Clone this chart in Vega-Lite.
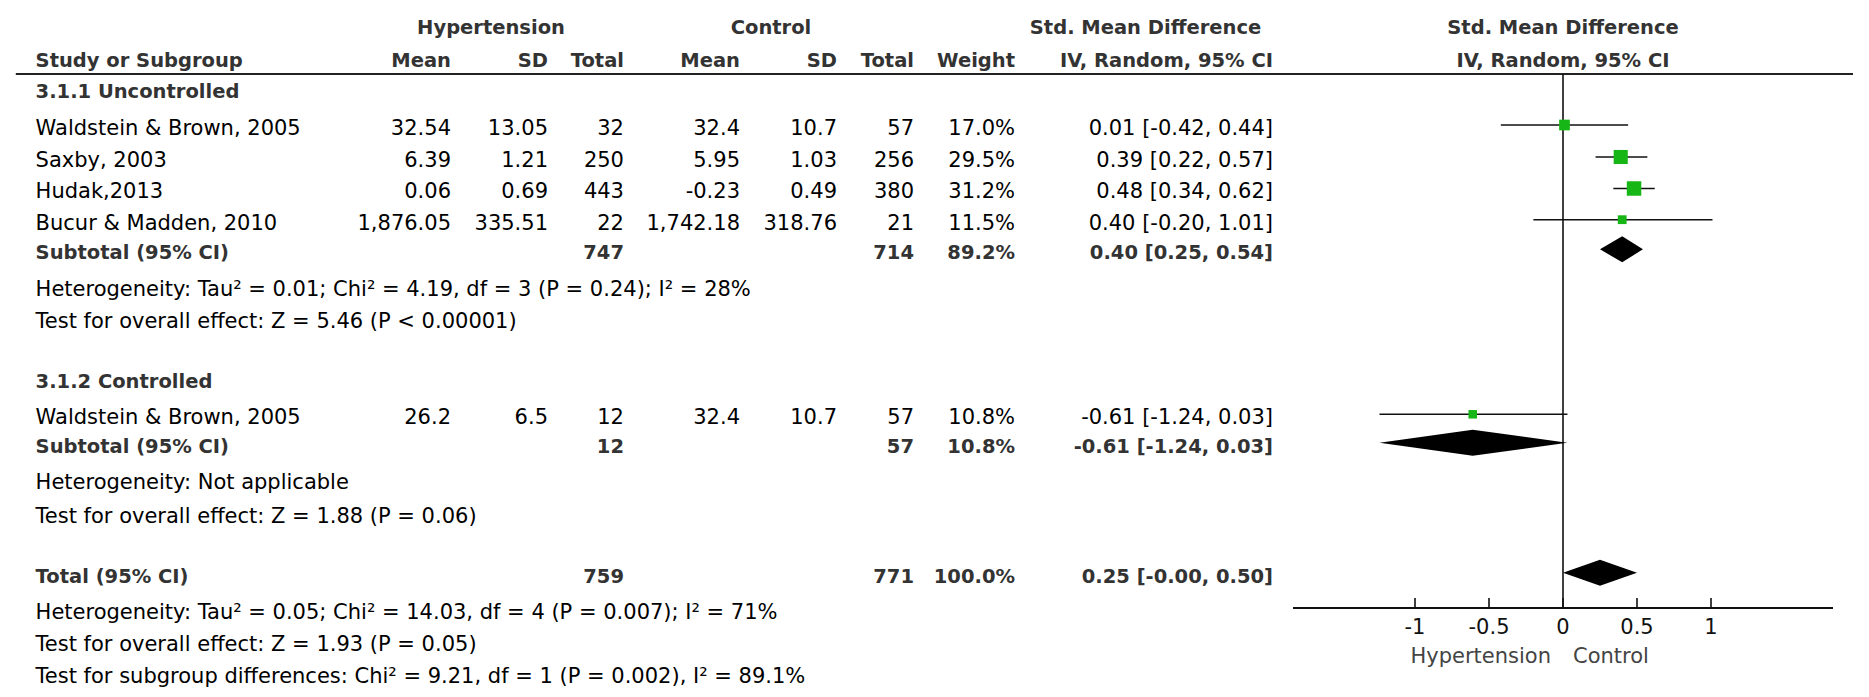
{
  "$schema": "https://vega.github.io/schema/vega-lite/v6.json",
  "autosize": {"type": "fit", "contains": "padding"},
  "width": 1869,
  "height": 697,
  "padding": 0,
  "background": "white",
  "config": {"view": {"stroke": null}, "axis": {"disable": true}},
  "datasets": {
    "rows": [
      {"r": 1.84, "type": "header", "study": "Study or Subgroup", "hm": "Mean", "hsd": "SD", "hn": "Total", "cm": "Mean", "csd": "SD", "cn": "Total", "w": "Weight", "ci": "IV, Random, 95% CI"},
      {"r": 2.841, "type": "group", "study": "3.1.1 Uncontrolled"},
      {"r": 4.035, "type": "study", "study": "Waldstein & Brown, 2005", "hm": "32.54", "hsd": "13.05", "hn": "32", "cm": "32.4", "csd": "10.7", "cn": "57", "w": "17.0%", "ci": "0.01 [-0.42, 0.44]", "est": 0.01, "lo": -0.42, "hi": 0.44, "wt": 17.0},
      {"r": 5.068, "type": "study", "study": "Saxby, 2003", "hm": "6.39", "hsd": "1.21", "hn": "250", "cm": "5.95", "csd": "1.03", "cn": "256", "w": "29.5%", "ci": "0.39 [0.22, 0.57]", "est": 0.39, "lo": 0.22, "hi": 0.57, "wt": 29.5},
      {"r": 6.085, "type": "study", "study": "Hudak,2013", "hm": "0.06", "hsd": "0.69", "hn": "443", "cm": "-0.23", "csd": "0.49", "cn": "380", "w": "31.2%", "ci": "0.48 [0.34, 0.62]", "est": 0.48, "lo": 0.34, "hi": 0.62, "wt": 31.2},
      {"r": 7.092, "type": "study", "study": "Bucur & Madden, 2010", "hm": "1,876.05", "hsd": "335.51", "hn": "22", "cm": "1,742.18", "csd": "318.76", "cn": "21", "w": "11.5%", "ci": "0.40 [-0.20, 1.01]", "est": 0.40, "lo": -0.20, "hi": 1.01, "wt": 11.5},
      {"r": 8.048, "type": "subtotal", "study": "Subtotal (95% CI)", "hn": "747", "cn": "714", "w": "89.2%", "ci": "0.40 [0.25, 0.54]", "est": 0.40, "lo": 0.25, "hi": 0.54},
      {"r": 9.232, "type": "note", "study": "Heterogeneity: Tau² = 0.01; Chi² = 4.19, df = 3 (P = 0.24); I² = 28%"},
      {"r": 10.256, "type": "note", "study": "Test for overall effect: Z = 5.46 (P < 0.00001)"},
      {"r": 12.193, "type": "group", "study": "3.1.2 Controlled"},
      {"r": 13.374, "type": "study", "study": "Waldstein & Brown, 2005", "hm": "26.2", "hsd": "6.5", "hn": "12", "cm": "32.4", "csd": "10.7", "cn": "57", "w": "10.8%", "ci": "-0.61 [-1.24, 0.03]", "est": -0.61, "lo": -1.24, "hi": 0.03, "wt": 10.8},
      {"r": 14.291, "type": "subtotal", "study": "Subtotal (95% CI)", "hn": "12", "cn": "57", "w": "10.8%", "ci": "-0.61 [-1.24, 0.03]", "est": -0.61, "lo": -1.24, "hi": 0.03},
      {"r": 15.472, "type": "note", "study": "Heterogeneity: Not applicable"},
      {"r": 16.55, "type": "note", "study": "Test for overall effect: Z = 1.88 (P = 0.06)"},
      {"r": 18.487, "type": "total", "study": "Total (95% CI)", "hn": "759", "cn": "771", "w": "100.0%", "ci": "0.25 [-0.00, 0.50]", "est": 0.25, "lo": 0.0, "hi": 0.50},
      {"r": 19.669, "type": "note", "study": "Heterogeneity: Tau² = 0.05; Chi² = 14.03, df = 4 (P = 0.007); I² = 71%"},
      {"r": 20.692, "type": "note", "study": "Test for overall effect: Z = 1.93 (P = 0.05)"},
      {"r": 21.715, "type": "note", "study": "Test for subgroup differences: Chi² = 9.21, df = 1 (P = 0.002), I² = 89.1%"}
    ],
    "groups": [
      {"r": 0.775, "h": "Hypertension", "c": "Control", "s": "Std. Mean Difference", "favL": "Hypertension", "favR": "Control"}
    ],
    "ticks": [
      {"v": -1, "lab": "-1"},
      {"v": -0.5, "lab": "-0.5"},
      {"v": 0, "lab": "0"},
      {"v": 0.5, "lab": "0.5"},
      {"v": 1, "lab": "1"}
    ]
  },
  "layer": [
    {
      "data": {"name": "groups"},
      "mark": {"type": "rule", "color": "#222222", "strokeWidth": 2.2},
      "encoding": {
        "x": {"datum": -10.454, "type": "quantitative", "scale": {"domain": [-10.5608, 2.0676], "nice": false, "zero": false}, "axis": null},
        "x2": {"datum": 1.9595},
        "y": {"datum": 2.389, "type": "quantitative", "scale": {"domain": [0, 22.5], "reverse": true, "nice": false, "zero": false}, "axis": null}
      }
    },
    {
      "data": {"name": "groups"},
      "mark": {"type": "rule", "color": "#111111", "strokeWidth": 1.6},
      "encoding": {
        "x": {"datum": 0, "type": "quantitative", "scale": {"domain": [-10.5608, 2.0676], "nice": false, "zero": false}, "axis": null},
        "y": {"datum": 2.389, "type": "quantitative", "scale": {"domain": [0, 22.5], "reverse": true, "nice": false, "zero": false}, "axis": null},
        "y2": {"datum": 19.627}
      }
    },
    {
      "data": {"name": "groups"},
      "mark": {"type": "rule", "color": "#111111", "strokeWidth": 2},
      "encoding": {
        "x": {"datum": -1.8243, "type": "quantitative", "scale": {"domain": [-10.5608, 2.0676], "nice": false, "zero": false}, "axis": null},
        "x2": {"datum": 1.8243},
        "y": {"datum": 19.627, "type": "quantitative", "scale": {"domain": [0, 22.5], "reverse": true, "nice": false, "zero": false}, "axis": null}
      }
    },
    {
      "data": {"name": "ticks"},
      "mark": {"type": "rule", "color": "#111111", "strokeWidth": 1.6},
      "encoding": {
        "x": {"field": "v", "type": "quantitative", "scale": {"domain": [-10.5608, 2.0676], "nice": false, "zero": false}, "axis": null},
        "y": {"datum": 19.627, "type": "quantitative", "scale": {"domain": [0, 22.5], "reverse": true, "nice": false, "zero": false}, "axis": null},
        "y2": {"datum": 19.304}
      }
    },
    {
      "data": {"name": "ticks"},
      "mark": {"type": "text", "align": "center", "baseline": "middle", "fontSize": 21, "font": "DejaVu Sans", "color": "#111111"},
      "encoding": {
        "x": {"field": "v", "type": "quantitative", "scale": {"domain": [-10.5608, 2.0676], "nice": false, "zero": false}, "axis": null},
        "y": {"datum": 20.26, "type": "quantitative", "scale": {"domain": [0, 22.5], "reverse": true, "nice": false, "zero": false}, "axis": null},
        "text": {"field": "lab"}
      }
    },
    {
      "data": {"name": "groups"},
      "mark": {"type": "text", "align": "right", "baseline": "middle", "dx": -12, "fontSize": 21, "font": "DejaVu Sans", "color": "#444444"},
      "encoding": {
        "x": {"datum": 0, "type": "quantitative", "scale": {"domain": [-10.5608, 2.0676], "nice": false, "zero": false}, "axis": null},
        "y": {"datum": 21.22, "type": "quantitative", "scale": {"domain": [0, 22.5], "reverse": true, "nice": false, "zero": false}, "axis": null},
        "text": {"field": "favL"}
      }
    },
    {
      "data": {"name": "groups"},
      "mark": {"type": "text", "align": "left", "baseline": "middle", "dx": 10, "fontSize": 21, "font": "DejaVu Sans", "color": "#444444"},
      "encoding": {
        "x": {"datum": 0, "type": "quantitative", "scale": {"domain": [-10.5608, 2.0676], "nice": false, "zero": false}, "axis": null},
        "y": {"datum": 21.22, "type": "quantitative", "scale": {"domain": [0, 22.5], "reverse": true, "nice": false, "zero": false}, "axis": null},
        "text": {"field": "favR"}
      }
    },
    {
      "data": {"name": "rows"},
      "transform": [{"filter": "datum.type === 'study'"}],
      "mark": {"type": "rule", "color": "#111111", "strokeWidth": 1.6},
      "encoding": {
        "x": {"field": "lo", "type": "quantitative", "scale": {"domain": [-10.5608, 2.0676], "nice": false, "zero": false}, "axis": null},
        "x2": {"field": "hi"},
        "y": {"field": "r", "type": "quantitative", "scale": {"domain": [0, 22.5], "reverse": true, "nice": false, "zero": false}, "axis": null}
      }
    },
    {
      "data": {"name": "rows"},
      "transform": [{"filter": "datum.type === 'study'"}],
      "mark": {"type": "point", "shape": "square", "filled": true, "color": "#17b617", "opacity": 1, "strokeWidth": 0},
      "encoding": {
        "x": {"field": "est", "type": "quantitative", "scale": {"domain": [-10.5608, 2.0676], "nice": false, "zero": false}, "axis": null},
        "y": {"field": "r", "type": "quantitative", "scale": {"domain": [0, 22.5], "reverse": true, "nice": false, "zero": false}, "axis": null},
        "size": {"field": "wt", "type": "quantitative", "scale": {"type": "linear", "domain": [0, 31.2], "range": [0, 210], "zero": true}, "legend": null}
      }
    },
    {
      "data": {"name": "rows"},
      "transform": [
        {"filter": "datum.type === 'subtotal' || datum.type === 'total'"},
        {"fold": ["lo", "est", "hi"], "as": ["pt", "xv"]}
      ],
      "mark": {"type": "area", "orient": "vertical", "color": "#000000", "opacity": 1,
               "yOffset": {"expr": "datum.pt === 'est' ? -13 : 0"},
               "y2Offset": {"expr": "datum.pt === 'est' ? 13 : 0"}},
      "encoding": {
        "x": {"field": "xv", "type": "quantitative", "scale": {"domain": [-10.5608, 2.0676], "nice": false, "zero": false}, "axis": null},
        "y": {"field": "r", "type": "quantitative", "scale": {"domain": [0, 22.5], "reverse": true, "nice": false, "zero": false}, "axis": null},
        "y2": {"field": "r"},
        "detail": {"field": "r", "type": "nominal"}
      }
    },
    {
      "data": {"name": "rows"},
      "mark": {"type": "text", "align": "left", "baseline": "middle", "dy": 4, "font": "DejaVu Sans",
               "fontSize": {"expr": "datum.type === 'study' || datum.type === 'note' ? 21 : 19.5"},
               "fontWeight": {"expr": "datum.type === 'study' || datum.type === 'note' ? 'normal' : 'bold'"}},
      "encoding": {
        "x": {"datum": -10.3203, "type": "quantitative", "scale": {"domain": [-10.5608, 2.0676], "nice": false, "zero": false}, "axis": null},
        "y": {"field": "r", "type": "quantitative", "scale": {"domain": [0, 22.5], "reverse": true, "nice": false, "zero": false}, "axis": null},
        "text": {"field": "study"},
        "color": {"condition": {"test": "datum.type === 'study' || datum.type === 'note'", "value": "#000000"}, "value": "#333333"}
      }
    },
    {
      "data": {"name": "rows"},
      "transform": [{"filter": "isValid(datum.hm)"}],
      "mark": {"type": "text", "align": "right", "baseline": "middle", "dy": 4, "font": "DejaVu Sans",
               "fontSize": {"expr": "datum.type === 'study' || datum.type === 'note' ? 21 : 19.5"},
               "fontWeight": {"expr": "datum.type === 'study' || datum.type === 'note' ? 'normal' : 'bold'"}},
      "encoding": {
        "x": {"datum": -7.5135, "type": "quantitative", "scale": {"domain": [-10.5608, 2.0676], "nice": false, "zero": false}, "axis": null},
        "y": {"field": "r", "type": "quantitative", "scale": {"domain": [0, 22.5], "reverse": true, "nice": false, "zero": false}, "axis": null},
        "text": {"field": "hm"},
        "color": {"condition": {"test": "datum.type === 'study' || datum.type === 'note'", "value": "#000000"}, "value": "#333333"}
      }
    },
    {
      "data": {"name": "rows"},
      "transform": [{"filter": "isValid(datum.hsd)"}],
      "mark": {"type": "text", "align": "right", "baseline": "middle", "dy": 4, "font": "DejaVu Sans",
               "fontSize": {"expr": "datum.type === 'study' || datum.type === 'note' ? 21 : 19.5"},
               "fontWeight": {"expr": "datum.type === 'study' || datum.type === 'note' ? 'normal' : 'bold'"}},
      "encoding": {
        "x": {"datum": -6.8581, "type": "quantitative", "scale": {"domain": [-10.5608, 2.0676], "nice": false, "zero": false}, "axis": null},
        "y": {"field": "r", "type": "quantitative", "scale": {"domain": [0, 22.5], "reverse": true, "nice": false, "zero": false}, "axis": null},
        "text": {"field": "hsd"},
        "color": {"condition": {"test": "datum.type === 'study' || datum.type === 'note'", "value": "#000000"}, "value": "#333333"}
      }
    },
    {
      "data": {"name": "rows"},
      "transform": [{"filter": "isValid(datum.hn)"}],
      "mark": {"type": "text", "align": "right", "baseline": "middle", "dy": 4, "font": "DejaVu Sans",
               "fontSize": {"expr": "datum.type === 'study' || datum.type === 'note' ? 21 : 19.5"},
               "fontWeight": {"expr": "datum.type === 'study' || datum.type === 'note' ? 'normal' : 'bold'"}},
      "encoding": {
        "x": {"datum": -6.3446, "type": "quantitative", "scale": {"domain": [-10.5608, 2.0676], "nice": false, "zero": false}, "axis": null},
        "y": {"field": "r", "type": "quantitative", "scale": {"domain": [0, 22.5], "reverse": true, "nice": false, "zero": false}, "axis": null},
        "text": {"field": "hn"},
        "color": {"condition": {"test": "datum.type === 'study' || datum.type === 'note'", "value": "#000000"}, "value": "#333333"}
      }
    },
    {
      "data": {"name": "rows"},
      "transform": [{"filter": "isValid(datum.cm)"}],
      "mark": {"type": "text", "align": "right", "baseline": "middle", "dy": 4, "font": "DejaVu Sans",
               "fontSize": {"expr": "datum.type === 'study' || datum.type === 'note' ? 21 : 19.5"},
               "fontWeight": {"expr": "datum.type === 'study' || datum.type === 'note' ? 'normal' : 'bold'"}},
      "encoding": {
        "x": {"datum": -5.5608, "type": "quantitative", "scale": {"domain": [-10.5608, 2.0676], "nice": false, "zero": false}, "axis": null},
        "y": {"field": "r", "type": "quantitative", "scale": {"domain": [0, 22.5], "reverse": true, "nice": false, "zero": false}, "axis": null},
        "text": {"field": "cm"},
        "color": {"condition": {"test": "datum.type === 'study' || datum.type === 'note'", "value": "#000000"}, "value": "#333333"}
      }
    },
    {
      "data": {"name": "rows"},
      "transform": [{"filter": "isValid(datum.csd)"}],
      "mark": {"type": "text", "align": "right", "baseline": "middle", "dy": 4, "font": "DejaVu Sans",
               "fontSize": {"expr": "datum.type === 'study' || datum.type === 'note' ? 21 : 19.5"},
               "fontWeight": {"expr": "datum.type === 'study' || datum.type === 'note' ? 'normal' : 'bold'"}},
      "encoding": {
        "x": {"datum": -4.9054, "type": "quantitative", "scale": {"domain": [-10.5608, 2.0676], "nice": false, "zero": false}, "axis": null},
        "y": {"field": "r", "type": "quantitative", "scale": {"domain": [0, 22.5], "reverse": true, "nice": false, "zero": false}, "axis": null},
        "text": {"field": "csd"},
        "color": {"condition": {"test": "datum.type === 'study' || datum.type === 'note'", "value": "#000000"}, "value": "#333333"}
      }
    },
    {
      "data": {"name": "rows"},
      "transform": [{"filter": "isValid(datum.cn)"}],
      "mark": {"type": "text", "align": "right", "baseline": "middle", "dy": 4, "font": "DejaVu Sans",
               "fontSize": {"expr": "datum.type === 'study' || datum.type === 'note' ? 21 : 19.5"},
               "fontWeight": {"expr": "datum.type === 'study' || datum.type === 'note' ? 'normal' : 'bold'"}},
      "encoding": {
        "x": {"datum": -4.3851, "type": "quantitative", "scale": {"domain": [-10.5608, 2.0676], "nice": false, "zero": false}, "axis": null},
        "y": {"field": "r", "type": "quantitative", "scale": {"domain": [0, 22.5], "reverse": true, "nice": false, "zero": false}, "axis": null},
        "text": {"field": "cn"},
        "color": {"condition": {"test": "datum.type === 'study' || datum.type === 'note'", "value": "#000000"}, "value": "#333333"}
      }
    },
    {
      "data": {"name": "rows"},
      "transform": [{"filter": "isValid(datum.w)"}],
      "mark": {"type": "text", "align": "right", "baseline": "middle", "dy": 4, "font": "DejaVu Sans",
               "fontSize": {"expr": "datum.type === 'study' || datum.type === 'note' ? 21 : 19.5"},
               "fontWeight": {"expr": "datum.type === 'study' || datum.type === 'note' ? 'normal' : 'bold'"}},
      "encoding": {
        "x": {"datum": -3.7027, "type": "quantitative", "scale": {"domain": [-10.5608, 2.0676], "nice": false, "zero": false}, "axis": null},
        "y": {"field": "r", "type": "quantitative", "scale": {"domain": [0, 22.5], "reverse": true, "nice": false, "zero": false}, "axis": null},
        "text": {"field": "w"},
        "color": {"condition": {"test": "datum.type === 'study' || datum.type === 'note'", "value": "#000000"}, "value": "#333333"}
      }
    },
    {
      "data": {"name": "rows"},
      "transform": [{"filter": "isValid(datum.ci)"}],
      "mark": {"type": "text", "align": "right", "baseline": "middle", "dy": 4, "font": "DejaVu Sans",
               "fontSize": {"expr": "datum.type === 'study' || datum.type === 'note' ? 21 : 19.5"},
               "fontWeight": {"expr": "datum.type === 'study' || datum.type === 'note' ? 'normal' : 'bold'"}},
      "encoding": {
        "x": {"datum": -1.9595, "type": "quantitative", "scale": {"domain": [-10.5608, 2.0676], "nice": false, "zero": false}, "axis": null},
        "y": {"field": "r", "type": "quantitative", "scale": {"domain": [0, 22.5], "reverse": true, "nice": false, "zero": false}, "axis": null},
        "text": {"field": "ci"},
        "color": {"condition": {"test": "datum.type === 'study' || datum.type === 'note'", "value": "#000000"}, "value": "#333333"}
      }
    },
    {
      "data": {"name": "rows"},
      "transform": [{"filter": "datum.type === 'header'"}],
      "mark": {"type": "text", "align": "center", "baseline": "middle", "dy": 4, "fontSize": 19.5, "font": "DejaVu Sans", "fontWeight": "bold", "color": "#333333"},
      "encoding": {
        "x": {"datum": 0, "type": "quantitative", "scale": {"domain": [-10.5608, 2.0676], "nice": false, "zero": false}, "axis": null},
        "y": {"field": "r", "type": "quantitative", "scale": {"domain": [0, 22.5], "reverse": true, "nice": false, "zero": false}, "axis": null},
        "text": {"field": "ci"}
      }
    },
    {
      "data": {"name": "groups"},
      "mark": {"type": "text", "align": "center", "baseline": "middle", "dy": 4, "fontSize": 19.5, "font": "DejaVu Sans", "fontWeight": "bold", "color": "#333333"},
      "encoding": {
        "x": {"datum": -7.243, "type": "quantitative", "scale": {"domain": [-10.5608, 2.0676], "nice": false, "zero": false}, "axis": null},
        "y": {"field": "r", "type": "quantitative", "scale": {"domain": [0, 22.5], "reverse": true, "nice": false, "zero": false}, "axis": null},
        "text": {"field": "h"}
      }
    },
    {
      "data": {"name": "groups"},
      "mark": {"type": "text", "align": "center", "baseline": "middle", "dy": 4, "fontSize": 19.5, "font": "DejaVu Sans", "fontWeight": "bold", "color": "#333333"},
      "encoding": {
        "x": {"datum": -5.3514, "type": "quantitative", "scale": {"domain": [-10.5608, 2.0676], "nice": false, "zero": false}, "axis": null},
        "y": {"field": "r", "type": "quantitative", "scale": {"domain": [0, 22.5], "reverse": true, "nice": false, "zero": false}, "axis": null},
        "text": {"field": "c"}
      }
    },
    {
      "data": {"name": "groups"},
      "mark": {"type": "text", "align": "center", "baseline": "middle", "dy": 4, "fontSize": 19.5, "font": "DejaVu Sans", "fontWeight": "bold", "color": "#333333"},
      "encoding": {
        "x": {"datum": -2.821, "type": "quantitative", "scale": {"domain": [-10.5608, 2.0676], "nice": false, "zero": false}, "axis": null},
        "y": {"field": "r", "type": "quantitative", "scale": {"domain": [0, 22.5], "reverse": true, "nice": false, "zero": false}, "axis": null},
        "text": {"field": "s"}
      }
    },
    {
      "data": {"name": "groups"},
      "mark": {"type": "text", "align": "center", "baseline": "middle", "dy": 4, "fontSize": 19.5, "font": "DejaVu Sans", "fontWeight": "bold", "color": "#333333"},
      "encoding": {
        "x": {"datum": 0, "type": "quantitative", "scale": {"domain": [-10.5608, 2.0676], "nice": false, "zero": false}, "axis": null},
        "y": {"field": "r", "type": "quantitative", "scale": {"domain": [0, 22.5], "reverse": true, "nice": false, "zero": false}, "axis": null},
        "text": {"field": "s"}
      }
    }
  ]
}
